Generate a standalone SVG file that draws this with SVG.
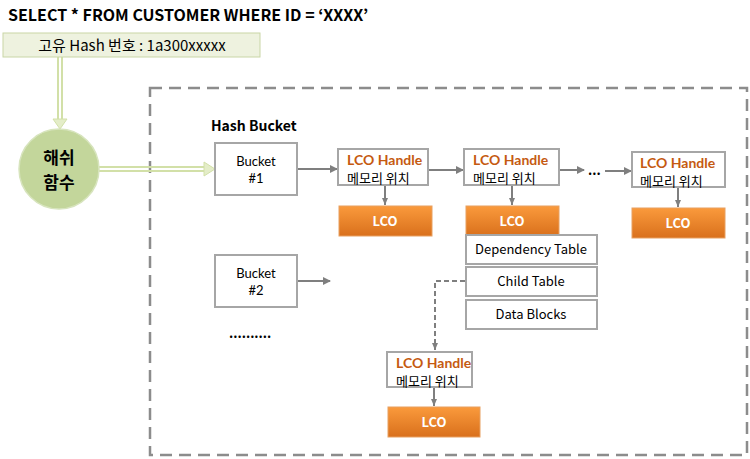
<svg xmlns="http://www.w3.org/2000/svg" width="750" height="459" viewBox="0 0 750 459">
<defs>
<linearGradient id="og" x1="0" y1="0" x2="0" y2="1">
<stop offset="0" stop-color="#fa9a3c"/>
<stop offset="1" stop-color="#d9701c"/>
</linearGradient>
<marker id="ah" markerWidth="8" markerHeight="8" refX="7" refY="4" orient="auto" markerUnits="userSpaceOnUse">
<path d="M0,0 L8,4 L0,8 Z" fill="#7f7f7f"/>
</marker>
<marker id="ahs" markerWidth="8" markerHeight="8" refX="7" refY="4" orient="auto" markerUnits="userSpaceOnUse">
<path d="M0,1 L7,4 L0,7 Z" fill="#7f7f7f"/>
</marker>
</defs>
<style>
text{font-family:"Noto Sans CJK KR","Liberation Sans",sans-serif;}
.lat{font-family:Lato,"Liberation Sans",sans-serif;}
.box{fill:#fff;stroke:#a6a6a6;stroke-width:2;}
.lco{fill:url(#og);stroke:#e8a060;stroke-width:1;}
.lcot{fill:#fff;font-size:13px;font-weight:bold;text-anchor:middle;}
.ht{fill:#c55a11;font-size:14px;font-weight:bold;font-family:Lato,"Liberation Sans",sans-serif;}
.mt{fill:#000;font-size:13px;}
.bt{fill:#000;font-size:13px;text-anchor:middle;}
.con{stroke:#7f7f7f;stroke-width:2;fill:none;}
</style>
<rect x="0" y="0" width="750" height="459" fill="#fff"/>
<text x="8" y="21" font-size="16" font-weight="bold" fill="#000">SELECT * FROM CUSTOMER WHERE ID = ‘XXXX’</text>

<g id="container">
<rect x="150" y="88" width="597" height="367" fill="none" stroke="#8c8c8c" stroke-width="2.5" stroke-dasharray="12,7"/>
<text x="211" y="131" font-size="14" font-weight="bold" fill="#000">Hash Bucket</text>
</g>

<g id="connectors">
<path d="M58,57 V119 M62,57 V119" stroke="#d2e0a8" stroke-width="2" fill="none"/>
<path d="M53,119 L60,129 L67,119 Z" fill="#e4edc8" stroke="#d2e0a8" stroke-width="1"/>
<path d="M99,167 H204 M99,171 H204" stroke="#d2e0a8" stroke-width="2" fill="none"/>
<path d="M204,162 L215,169 L204,176 Z" fill="#e4edc8" stroke="#d2e0a8" stroke-width="1"/>
<line class="con" x1="297" y1="169" x2="337" y2="169" marker-end="url(#ah)"/>
<line class="con" x1="428" y1="170" x2="463" y2="170" marker-end="url(#ah)"/>
<line class="con" x1="559" y1="170" x2="584" y2="170" marker-end="url(#ah)"/>
<line class="con" x1="605" y1="171" x2="631" y2="171" marker-end="url(#ah)"/>
<line class="con" x1="297" y1="281" x2="330" y2="281" marker-end="url(#ah)"/>
<line class="con" x1="385" y1="186" x2="385" y2="205" stroke-width="1.5" marker-end="url(#ahs)"/>
<line class="con" x1="512" y1="186" x2="512" y2="205" stroke-width="1.5" marker-end="url(#ahs)"/>
<line class="con" x1="678" y1="188" x2="678" y2="207" stroke-width="1.5" marker-end="url(#ahs)"/>
<line class="con" x1="434" y1="388" x2="434" y2="406" stroke-width="1.5" marker-end="url(#ahs)"/>
<path class="con" d="M465,281 H435 V350" stroke-dasharray="5,3" marker-end="url(#ahs)"/>
<text x="588" y="175" font-size="13" font-weight="bold" fill="#000">...</text>
<text x="229" y="338" font-size="13" font-weight="bold" fill="#000">..........</text>
</g>

<g id="hashno">
<rect x="3" y="33" width="257" height="24" fill="#eef2df" stroke="#c9d6a6" stroke-width="1"/>
<text x="132" y="50.5" font-size="15" text-anchor="middle" fill="#000">고유 Hash 번호 : 1a300xxxxx</text>
</g>

<g id="hashfn">
<circle cx="59" cy="169" r="40" fill="#c3d69b" stroke="#d7e4bd" stroke-width="1.5"/>
<text x="59" y="164" font-size="17" font-weight="bold" text-anchor="middle" fill="#000">해쉬</text>
<text x="59" y="189" font-size="17" font-weight="bold" text-anchor="middle" fill="#000">함수</text>
</g>

<g id="bucket1">
<rect class="box" x="215" y="143" width="82" height="52"/>
<text class="bt lat" x="256" y="166">Bucket</text>
<text class="bt lat" x="256" y="183">#1</text>
</g>
<g id="bucket2">
<rect class="box" x="215" y="255" width="82" height="52"/>
<text class="bt lat" x="256" y="278">Bucket</text>
<text class="bt lat" x="256" y="295">#2</text>
</g>

<g id="handle1">
<rect class="box" x="338" y="149" width="90" height="36"/>
<text class="ht" x="347" y="165">LCO Handle</text>
<text class="mt" x="347" y="183">메모리 위치</text>
</g>
<g id="lco1">
<rect class="lco" x="339" y="206" width="93" height="30"/>
<text class="lcot" x="385" y="226">LCO</text>
</g>

<g id="handle2">
<rect class="box" x="464" y="149" width="95" height="36"/>
<text class="ht" x="473" y="165">LCO Handle</text>
<text class="mt" x="473" y="183">메모리 위치</text>
</g>
<g id="lco2">
<rect class="lco" x="466" y="206" width="93" height="30"/>
<text class="lcot" x="512" y="226">LCO</text>
</g>

<g id="handle3">
<rect class="box" x="632" y="152" width="93" height="35"/>
<text class="ht" x="640" y="168">LCO Handle</text>
<text class="mt" x="640" y="186">메모리 위치</text>
</g>
<g id="lco3">
<rect class="lco" x="632" y="208" width="93" height="30"/>
<text class="lcot" x="678" y="228">LCO</text>
</g>

<g id="deptable">
<rect class="box" x="466" y="235" width="131" height="29"/>
<text class="bt" x="531" y="254">Dependency Table</text>
</g>
<g id="childtable">
<rect class="box" x="466" y="267" width="131" height="29"/>
<text class="bt" x="531" y="286">Child Table</text>
</g>
<g id="datablocks">
<rect class="box" x="466" y="300" width="131" height="29"/>
<text class="bt" x="531" y="319">Data Blocks</text>
</g>

<g id="handle4">
<rect class="box" x="387" y="352" width="85" height="35"/>
<text class="ht" x="396" y="368">LCO Handle</text>
<text class="mt" x="396" y="386">메모리 위치</text>
</g>
<g id="lco4">
<rect class="lco" x="388" y="407" width="92" height="30"/>
<text class="lcot" x="434" y="427">LCO</text>
</g>
</svg>
